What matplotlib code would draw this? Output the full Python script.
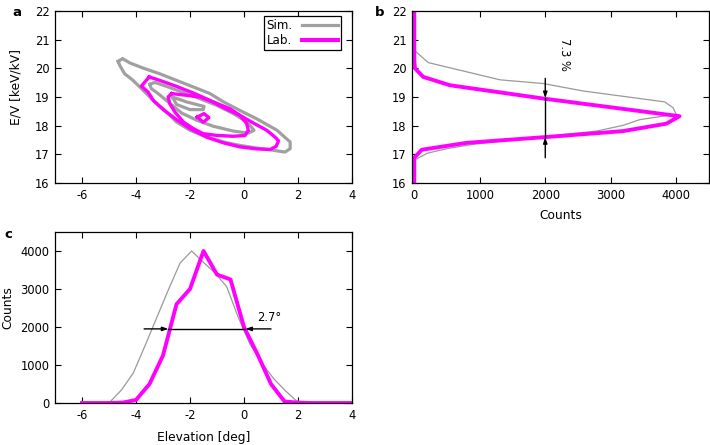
import matplotlib
matplotlib.use("Agg")
import matplotlib.pyplot as plt

plt.rcParams['font.family'] = ['DejaVu Sans']
plt.rcParams['axes.unicode_minus'] = False

# ---------------- data ----------------
# panel a: contour outlines (elevation [deg], E/V [keV/kV])
sim_outer_x = [-4.66, -4.50, -4.23, -3.74, -3.12, -2.50, -1.88, -1.26, -0.76, -0.15, 0.47, 1.22, 1.71, 1.71,
               1.52, 1.09, 0.47, -0.15, -0.76, -1.38, -2.00, -2.50, -2.87, -3.36, -3.86, -4.11, -4.42, -4.60, -4.66]
sim_outer_y = [20.24, 20.34, 20.19, 20.01, 19.81, 19.58, 19.35, 19.12, 18.83, 18.53, 18.24, 17.84, 17.43, 17.20,
               17.08, 17.14, 17.22, 17.31, 17.43, 17.60, 17.84, 18.13, 18.48, 18.88, 19.35, 19.58, 19.81, 20.10, 20.24]
sim_mid_x = [-3.49, -3.30, -2.87, -2.25, -1.63, -1.01, -0.39, 0.10, 0.37, 0.16, -0.39, -1.14, -1.75, -2.31,
             -2.81, -3.18, -3.43, -3.49]
sim_mid_y = [19.44, 19.51, 19.37, 19.16, 18.94, 18.71, 18.42, 18.13, 17.84, 17.74, 17.81, 17.98, 18.19, 18.44,
             18.83, 19.12, 19.29, 19.44]
sim_inner_x = [-2.65, -2.13, -1.48, -1.51, -2.00, -2.50, -2.65]
sim_inner_y = [19.00, 18.83, 18.67, 18.56, 18.56, 18.74, 19.00]

lab_outer_x = [-3.51, -3.12, -2.50, -1.88, -1.26, -0.76, -0.15, 0.35, 0.84, 1.15, 1.28, 1.19, 0.97, 0.47,
               -0.15, -0.76, -1.38, -2.00, -2.50, -2.99, -3.36, -3.55, -3.80, -3.51]
lab_outer_y = [19.70, 19.58, 19.37, 19.14, 18.88, 18.63, 18.36, 18.09, 17.84, 17.60, 17.47, 17.28, 17.17, 17.19,
               17.26, 17.40, 17.60, 17.90, 18.21, 18.56, 18.88, 19.17, 19.38, 19.70]
lab_mid_x = [-2.68, -2.13, -1.63, -1.14, -0.52, -0.15, 0.10, 0.16, 0.04, -0.39, -1.01, -1.51, -1.88, -2.25,
             -2.56, -2.75, -2.81, -2.68]
lab_mid_y = [19.12, 19.06, 19.00, 18.83, 18.59, 18.36, 18.07, 17.84, 17.66, 17.63, 17.66, 17.72, 17.90, 18.13,
             18.48, 18.77, 19.00, 19.12]
lab_inner_x = [-1.73, -1.51, -1.30, -1.48, -1.73]
lab_inner_y = [18.30, 18.12, 18.28, 18.42, 18.30]

# panel b: E/V projection (counts vs E/V)
b_sim_ev = [22.0, 20.63, 20.20, 19.60, 19.47, 19.21, 18.83, 18.63, 18.40, 18.21, 18.01, 17.81, 17.62,
            17.50, 17.35, 17.20, 17.04, 16.80, 16.0]
b_sim_counts = [0, 0, 213, 1307, 1968, 2577, 3823, 3950, 4000, 3442, 3187, 2781, 2000,
                1500, 900, 500, 200, 0, 0]
b_lab_ev = [22.0, 20.30, 20.00, 19.70, 19.41, 18.94, 18.33, 18.07, 17.81, 17.60, 17.40, 17.16, 16.88, 16.0]
b_lab_counts = [0, 0, 10, 137, 544, 1990, 4050, 3849, 3187, 1992, 798, 113, 0, 0]

# panel c: elevation projection
c_sim_elev = [-6.0, -5.39, -4.96, -4.53, -4.10, -3.67, -3.23, -2.80, -2.37, -1.94, -1.50, -1.07, -0.64,
              -0.21, 0.22, 0.66, 1.09, 1.52, 1.95, 2.38, 4.0]
c_sim_counts = [0, 0, 30, 350, 790, 1500, 2250, 2980, 3680, 4000, 3700, 3420, 3060,
                2250, 1550, 1050, 650, 330, 50, 0, 0]
c_lab_elev = [-6.0, -5.5, -5.0, -4.5, -4.0, -3.5, -3.0, -2.5, -2.0, -1.5, -1.0, -0.5, 0.0, 0.5, 1.0,
              1.5, 2.0, 2.5, 3.0, 3.5, 4.0]
c_lab_counts = [0, 0, 0, 10, 80, 500, 1250, 2600, 3000, 4000, 3380, 3250, 2000, 1280, 500,
                40, 10, 0, 0, 0, 0]

# annotations
b_arrow_x = 2000
b_arrow_top, b_arrow_hi, b_arrow_lo, b_arrow_bot = 19.65, 18.96, 17.60, 16.88
b_text = "7.3 %"
c_arrow_y = 1950
c_arrow_left, c_arrow_l, c_arrow_r, c_arrow_right = -3.70, -2.80, 0.05, 1.00
c_text = "2.7°"

GRAY = '#a0a0a0'
MAG = '#ff00ff'
TICK_FS = 8.3
LAB_FS = 8.8

fig = plt.figure(figsize=(7.1, 4.45), dpi=100)
W, H = 710, 445


def add_axes(l, r, t, b):
    return fig.add_axes([l / W, 1 - b / H, (r - l) / W, (b - t) / H])


def style(ax):
    ax.tick_params(direction='in', length=4, width=0.8, top=True, right=True,
                   labelsize=TICK_FS, pad=4)
    for s in ax.spines.values():
        s.set_linewidth(0.9)


axa = add_axes(55, 352, 11, 183)
axb = add_axes(412, 709, 11, 183)
axc = add_axes(55, 352, 232, 403)

# ---- panel a ----
axa.plot(sim_outer_x, sim_outer_y, color=GRAY, lw=2.3, label='Sim.')
axa.plot(sim_mid_x, sim_mid_y, color=GRAY, lw=2.3)
axa.plot(sim_inner_x, sim_inner_y, color=GRAY, lw=2.3)
axa.plot(lab_outer_x, lab_outer_y, color=MAG, lw=2.4, label='Lab.')
axa.plot(lab_mid_x, lab_mid_y, color=MAG, lw=2.4)
axa.plot(lab_inner_x, lab_inner_y, color=MAG, lw=2.4)
axa.set_xlim(-7, 4)
axa.set_ylim(16, 22)
axa.set_xticks([-6, -4, -2, 0, 2, 4])
axa.set_yticks([16, 17, 18, 19, 20, 21, 22])
axa.set_ylabel('E/V [keV/kV]', fontsize=LAB_FS)
axa.yaxis.set_label_coords(-0.108, 0.56)
style(axa)
leg = axa.legend(loc='upper right', bbox_to_anchor=(0.975, 0.99), markerfirst=False,
                 fancybox=False, framealpha=1, edgecolor='black', fontsize=8.6,
                 handlelength=3.0, handletextpad=0.8, borderpad=0.25, labelspacing=0.15,
                 borderaxespad=0.3)
leg.get_frame().set_linewidth(0.9)
leg.get_lines()[0].set_linewidth(2.3)
leg.get_lines()[1].set_linewidth(3.0)

# ---- panel b ----
axb.plot(b_sim_counts, b_sim_ev, color='#999999', lw=0.9)
axb.plot(b_lab_counts, b_lab_ev, color=MAG, lw=2.8)
axb.plot([b_arrow_x, b_arrow_x], [b_arrow_hi, b_arrow_lo], color='black', lw=1.0, zorder=5)
for start, end in [(b_arrow_top, b_arrow_hi), (b_arrow_bot, b_arrow_lo)]:
    axb.annotate('', xy=(b_arrow_x, end), xytext=(b_arrow_x, start),
                 arrowprops=dict(arrowstyle='-|>,head_length=0.35,head_width=0.12',
                                 color='black', lw=1.0, shrinkA=0, shrinkB=0), zorder=5)
axb.text(2300, 20.47, b_text, rotation=-90, ha='center', va='center', fontsize=8.3)
axb.set_xlim(-35, 4500)
axb.set_ylim(16, 22)
axb.set_xticks([0, 1000, 2000, 3000, 4000])
axb.set_yticks([16, 17, 18, 19, 20, 21, 22])
axb.set_xlabel('Counts', fontsize=LAB_FS)
axb.xaxis.set_label_coords(0.50, -0.15)
style(axb)

# ---- panel c ----
axc.plot(c_sim_elev, c_sim_counts, color='#999999', lw=0.9)
axc.plot(c_lab_elev, c_lab_counts, color=MAG, lw=2.8)
axc.plot([c_arrow_l, c_arrow_r], [c_arrow_y, c_arrow_y], color='black', lw=1.0, zorder=5)
for start, end in [(c_arrow_left, c_arrow_l), (c_arrow_right, c_arrow_r)]:
    axc.annotate('', xy=(end, c_arrow_y), xytext=(start, c_arrow_y),
                 arrowprops=dict(arrowstyle='-|>,head_length=0.35,head_width=0.12',
                                 color='black', lw=1.0, shrinkA=0, shrinkB=0), zorder=5)
axc.text(0.48, 2070, c_text, ha='left', va='bottom', fontsize=8.3)
axc.set_xlim(-7, 4)
axc.set_ylim(0, 4500)
axc.set_xticks([-6, -4, -2, 0, 2, 4])
axc.set_yticks([0, 1000, 2000, 3000, 4000])
axc.set_xlabel('Elevation [deg]', fontsize=LAB_FS)
axc.set_ylabel('Counts', fontsize=LAB_FS)
axc.xaxis.set_label_coords(0.50, -0.162)
axc.yaxis.set_label_coords(-0.138, 0.56)
style(axc)

# panel letters
fig.text(17 / W, 1 - 12 / H, 'a', fontsize=9.5, fontweight='bold', ha='center', va='center')
fig.text(380 / W, 1 - 12 / H, 'b', fontsize=9.5, fontweight='bold', ha='center', va='center')
fig.text(8 / W, 1 - 235 / H, 'c', fontsize=9.5, fontweight='bold', ha='center', va='center')

fig.savefig('out.png', dpi=100)
